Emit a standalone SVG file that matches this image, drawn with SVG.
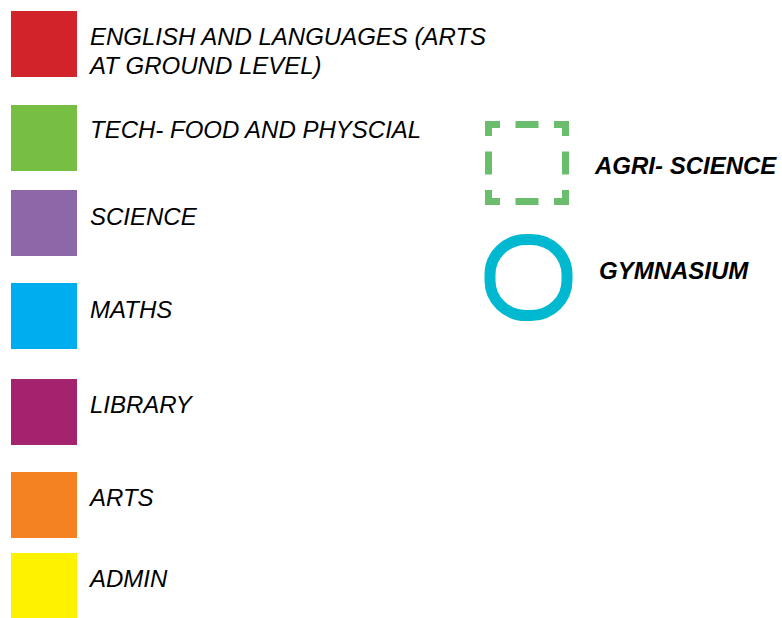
<svg xmlns="http://www.w3.org/2000/svg" width="782" height="618" viewBox="0 0 782 618">
<style>
.lbl{font-family:"Liberation Sans",Arial,sans-serif;font-size:24px;font-style:italic;fill:#000}
.b{font-weight:bold}
</style>
<rect width="782" height="618" fill="#fff"/>
<g id="english"><rect x="11" y="11" width="66" height="66" fill="#D2232A"/><text class="lbl" x="90" y="45">ENGLISH AND LANGUAGES (ARTS</text><text class="lbl" x="90" y="74">AT GROUND LEVEL)</text></g>
<g id="tech"><rect x="11" y="105" width="66" height="66" fill="#76BF43"/><text class="lbl" x="90" y="138">TECH- FOOD AND PHYSCIAL</text></g>
<g id="science"><rect x="11" y="190" width="66" height="66" fill="#8C68A8"/><text class="lbl" x="90" y="225">SCIENCE</text></g>
<g id="maths"><rect x="11" y="283" width="66" height="66" fill="#00AEEF"/><text class="lbl" x="90" y="318">MATHS</text></g>
<g id="library"><rect x="11" y="379" width="66" height="66" fill="#A3236F"/><text class="lbl" x="90" y="413">LIBRARY</text></g>
<g id="arts"><rect x="11" y="472" width="66" height="66" fill="#F58220"/><text class="lbl" x="90" y="506">ARTS</text></g>
<g id="admin"><rect x="11" y="553" width="66" height="66" fill="#FFF200"/><text class="lbl" x="90" y="587">ADMIN</text></g>
<g id="agri"><path d="M488.5 124.5H565.5V201.5H488.5Z" fill="none" stroke="#6ABD6C" stroke-width="7" stroke-dasharray="23 15.5" stroke-dashoffset="11.5" stroke-linejoin="miter"/><text class="lbl b" x="595" y="174">AGRI- SCIENCE</text></g>
<g id="gym"><rect x="490" y="239.5" width="77" height="76" rx="36" ry="35" fill="none" stroke="#00B9D1" stroke-width="11"/><text class="lbl b" x="599" y="279">GYMNASIUM</text></g>
</svg>
